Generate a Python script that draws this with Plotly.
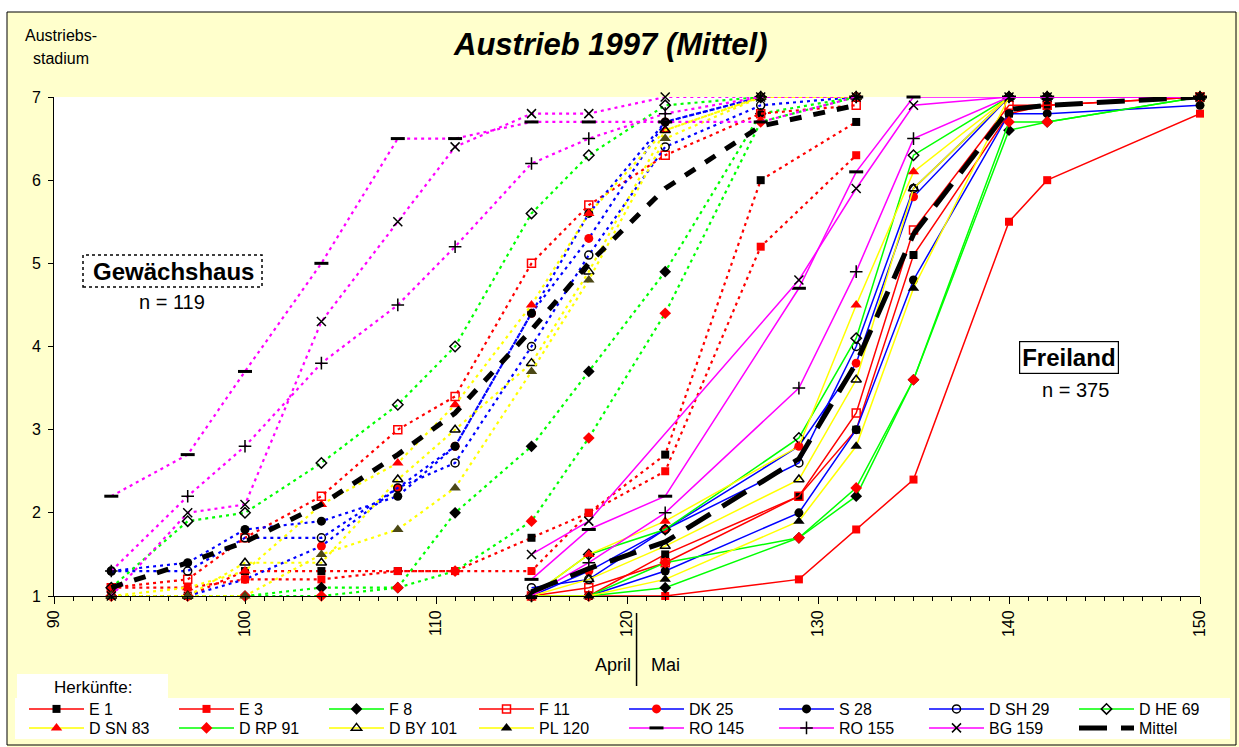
import plotly.graph_objects as go

# ---------------- data ----------------
days_gh = [93, 97, 100, 104, 108, 111, 115, 118, 122, 127, 132]   # Gewächshaus
days_fl = [115, 118, 122, 129, 132, 135, 140, 142, 150]           # Freiland

names = ["E 1", "E 3", "F 8", "F 11", "DK 25", "S 28", "D SH 29", "D HE 69",
         "D SN 83", "D RP 91", "D BY 101", "PL 120", "RO 145", "RO 155", "BG 159"]

gh_E1    = [1.0, 1.0, 1.3, 1.3, 1.3, 1.3, 1.7, 2.0, 2.7, 6.0, 6.7]
gh_E3    = [1.1, 1.1, 1.2, 1.2, 1.3, 1.3, 1.3, 2.0, 2.5, 5.2, 6.3]
gh_F8    = [1.0, 1.0, 1.0, 1.1, 1.1, 2.0, 2.8, 3.7, 4.9, 6.8, 7.0]
gh_F11   = [1.1, 1.2, 1.7, 2.2, 3.0, 3.4, 5.0, 5.7, 6.3, 6.8, 6.9]
gh_DK25  = [1.0, 1.0, 1.2, 1.6, 2.3, 2.8, 4.4, 5.3, 6.7, 7.0, 7.0]
gh_S28   = [1.3, 1.4, 1.8, 1.9, 2.2, 2.8, 4.4, 5.6, 6.7, 7.0, 7.0]
gh_DSH29 = [1.3, 1.3, 1.7, 1.7, 2.3, 2.6, 4.0, 5.1, 6.4, 6.9, 7.0]
gh_DHE69 = [1.1, 1.9, 2.0, 2.6, 3.3, 4.0, 5.6, 6.3, 6.9, 7.0, 7.0]
gh_DSN83 = [1.0, 1.1, 1.3, 2.1, 2.6, 3.3, 4.5, 5.6, 6.6, 7.0, 7.0]
gh_DRP91 = [1.0, 1.0, 1.0, 1.0, 1.1, 1.3, 1.9, 2.9, 4.4, 6.7, 7.0]
gh_DBY101 = [1.0, 1.0, 1.4, 1.4, 2.4, 3.0, 3.8, 4.9, 6.6, 7.0, 7.0]
gh_PL120 = [1.0, 1.0, 1.0, 1.5, 1.8, 2.3, 3.7, 4.8, 6.5, 7.0, 7.0]
gh_RO145 = [2.2, 2.7, 3.7, 5.0, 6.5, 6.5, 6.7, 6.7, 6.7, 6.7, 7.0]
gh_RO155 = [1.3, 2.2, 2.8, 3.8, 4.5, 5.2, 6.2, 6.5, 6.8, 7.0, 7.0]
gh_BG159 = [1.0, 2.0, 2.1, 4.3, 5.5, 6.4, 6.8, 6.8, 7.0, 7.0, 7.0]
gh_Mittel = [1.1, 1.4, 1.65, 2.1, 2.7, 3.2, 4.2, 5.0, 5.9, 6.65, 6.9]

fl_E1    = [1.0, 1.0, 1.5, 2.2, 3.0, 5.1, 6.8, 6.9, 7.0]
fl_E3    = [1.0, 1.0, 1.0, 1.2, 1.8, 2.4, 5.5, 6.0, 6.8]
fl_F8    = [1.0, 1.0, 1.1, 1.7, 2.2, 3.6, 6.6, 6.7, 7.0]
fl_F11   = [1.0, 1.1, 1.4, 2.2, 3.2, 5.4, 6.9, 6.9, 7.0]
fl_DK25  = [1.0, 1.3, 1.8, 2.8, 3.8, 5.8, 7.0, 7.0, 7.0]
fl_S28   = [1.0, 1.0, 1.3, 2.0, 3.0, 4.8, 6.8, 6.8, 6.9]
fl_DSH29 = [1.1, 1.2, 1.8, 2.6, 4.0, 5.9, 7.0, 7.0, 7.0]
fl_DHE69 = [1.0, 1.5, 1.8, 2.9, 4.1, 6.3, 7.0, 7.0, 7.0]
fl_DSN83 = [1.0, 1.5, 1.9, 2.8, 4.5, 6.1, 7.0, 7.0, 7.0]
fl_DRP91 = [1.0, 1.0, 1.4, 1.7, 2.3, 3.6, 6.7, 6.7, 7.0]
fl_DBY101 = [1.0, 1.2, 1.6, 2.4, 3.6, 5.9, 7.0, 7.0, 7.0]
fl_PL120 = [1.0, 1.0, 1.2, 1.9, 2.8, 4.7, 7.0, 7.0, 7.0]
fl_RO145 = [1.2, 1.8, 2.2, 4.7, 6.1, 7.0, 7.0, 7.0, 7.0]
fl_RO155 = [1.0, 1.4, 2.0, 3.5, 4.9, 6.5, 7.0, 7.0, 7.0]
fl_BG159 = [1.5, 1.9, None, 4.8, 5.9, 6.9, 7.0, 7.0, 7.0]
fl_Mittel = [1.05, 1.33, 1.65, 2.65, 3.8, 5.35, 6.85, 6.9, 7.0]

gh_values = [gh_E1, gh_E3, gh_F8, gh_F11, gh_DK25, gh_S28, gh_DSH29, gh_DHE69,
             gh_DSN83, gh_DRP91, gh_DBY101, gh_PL120, gh_RO145, gh_RO155, gh_BG159]
fl_values = [fl_E1, fl_E3, fl_F8, fl_F11, fl_DK25, fl_S28, fl_DSH29, fl_DHE69,
             fl_DSN83, fl_DRP91, fl_DBY101, fl_PL120, fl_RO145, fl_RO155, fl_BG159]

# ---------------- styles ----------------
RED, GREEN, YELLOW, BLUE, MAG, BLK = "#FF0000", "#00FF00", "#FFFF00", "#0000FF", "#FF00FF", "#000000"
OLIVE = "#4B4816"
styles = [
    (RED, "square", BLK), (RED, "square", RED), (GREEN, "diamond", BLK), (RED, "square-open", RED),
    (BLUE, "circle", RED), (BLUE, "circle", BLK), (BLUE, "circle-open", BLK), (GREEN, "diamond-open", BLK),
    (YELLOW, "triangle-up", RED), (GREEN, "diamond", RED), (YELLOW, "triangle-up-open", BLK),
    (YELLOW, "triangle-up", BLK), (MAG, "line-ew", BLK), (MAG, "cross-thin", BLK), (MAG, "x-thin", BLK),
]
SIZES = {"square": 8, "square-open": 8, "circle": 9, "circle-open": 8, "diamond": 9,
         "diamond-open": 8, "triangle-up": 10, "triangle-up-open": 9, "line-ew": 10,
         "cross-thin": 9, "x-thin": 9}


def marker(sym, col):
    s = SIZES[sym]
    if sym in ("line-ew", "cross-thin", "x-thin"):
        return dict(symbol=sym, size=s, color=col,
                    line=dict(color=col, width=3 if sym == "line-ew" else 1.5))
    if sym.endswith("-open"):
        return dict(symbol=sym, size=s, color=col, line=dict(color=col, width=1.5))
    return dict(symbol=sym, size=s, color=col, line=dict(width=0))


W, H = 1239, 747
L, R, T, B = 54, 39, 97, 151
PW, PH = W - L - R, H - T - B


def px(x):
    return (x - L) / PW


def py(y):
    return (H - B - y) / PH


FONT = "Arial, Liberation Sans, sans-serif"

fig = go.Figure()

# Gewächshaus (dotted)
for nm, vals, (lc, sym, mc) in zip(names, gh_values, styles):
    if nm == "PL 120":
        mc = OLIVE
    fig.add_trace(go.Scatter(
        x=days_gh, y=vals, mode="lines+markers", name=nm, legendgroup=nm,
        showlegend=False, cliponaxis=False,
        line=dict(color=lc, width=2.2, dash="3px,4px"),
        marker=marker(sym, mc)))
fig.add_trace(go.Scatter(
    x=days_gh, y=gh_Mittel, mode="lines", name="Mittel", legendgroup="Mittel",
    showlegend=False, cliponaxis=False,
    line=dict(color=BLK, width=5, dash="12px,12px")))

# Freiland (solid); first 8 in legend row 1, the rest in row 2
for i, (nm, vals, (lc, sym, mc)) in enumerate(zip(names, fl_values, styles)):
    fig.add_trace(go.Scatter(
        x=days_fl, y=vals, mode="lines+markers", name=nm, legendgroup=nm,
        legend="legend" if i < 8 else "legend2",
        showlegend=True, cliponaxis=False, connectgaps=True,
        line=dict(color=lc, width=1.5),
        marker=marker(sym, mc)))
fig.add_trace(go.Scatter(
    x=days_fl, y=fl_Mittel, mode="lines", name="Mittel", legendgroup="Mittel",
    legend="legend2", showlegend=True, cliponaxis=False,
    line=dict(color=BLK, width=5, dash="28px,14px")))

shapes = [
    dict(type="rect", xref="paper", yref="paper", x0=px(0), x1=px(W), y0=py(12), y1=py(0),
         fillcolor="white", line=dict(width=0), layer="below"),
    dict(type="rect", xref="paper", yref="paper", x0=px(0), x1=px(7), y0=py(H), y1=py(0),
         fillcolor="white", line=dict(width=0), layer="below"),
    dict(type="rect", xref="paper", yref="paper", x0=px(7), x1=px(1236), y0=py(745), y1=py(12),
         line=dict(color="black", width=1)),
    dict(type="rect", xref="paper", yref="paper", x0=px(15), x1=px(1230), y0=py(739), y1=py(698),
         fillcolor="white", line=dict(width=0), layer="below"),
    dict(type="rect", xref="paper", yref="paper", x0=px(17), x1=px(168), y0=py(699), y1=py(674),
         fillcolor="white", line=dict(width=0), layer="below"),
    dict(type="rect", xref="paper", yref="paper", x0=px(83), x1=px(262), y0=py(287), y1=py(255),
         line=dict(color="black", width=1.5, dash="3px,3px")),
    dict(type="line", xref="x", yref="paper", x0=120.5, x1=120.5, y0=py(686), y1=py(613),
         line=dict(color="black", width=1.5)),
]

annotations = [
    dict(text="<b><i>Austrieb 1997 (Mittel)</i></b>", x=px(610), y=py(45), font=dict(size=31)),
    dict(text="Austriebs-", x=px(61), y=py(36), font=dict(size=16)),
    dict(text="stadium", x=px(61), y=py(59), font=dict(size=16)),
    dict(text="<b>Gewächshaus</b>", x=px(173), y=py(271), font=dict(size=24)),
    dict(text="n = 119", x=px(172), y=py(302), font=dict(size=20)),
    dict(text="<b>Freiland</b>", x=px(1069), y=py(357), font=dict(size=24),
         bordercolor="black", borderwidth=1.2, borderpad=2, bgcolor="white"),
    dict(text="n = 375", x=px(1075), y=py(390), font=dict(size=20)),
    dict(text="April", x=px(633), y=py(665), xanchor="right", font=dict(size=18)),
    dict(text="Mai", x=px(649), y=py(665), xanchor="left", font=dict(size=18)),
    dict(text="Herkünfte:", x=px(93), y=py(687), font=dict(size=17)),
]
for a in annotations:
    a.update(xref="paper", yref="paper", showarrow=False)
    a.setdefault("xanchor", "center")
    a["yanchor"] = "middle"
    a["font"]["family"] = FONT
    a["font"]["color"] = "black"

leg_common = dict(orientation="h", x=px(24), xanchor="left", yanchor="top",
                  entrywidth=80, entrywidthmode="pixels", itemwidth=55,
                  bgcolor="rgba(0,0,0,0)", font=dict(size=16, family=FONT),
                  tracegroupgap=0, itemclick=False, itemdoubleclick=False)

fig.update_layout(
    width=W, height=H,
    margin=dict(l=L, r=R, t=T, b=B, pad=0, autoexpand=False),
    paper_bgcolor="#FFFFCC", plot_bgcolor="white",
    font=dict(family=FONT, size=16, color="black"),
    shapes=shapes, annotations=annotations,
    legend=dict(leg_common, y=py(692)),
    legend2=dict(leg_common, y=py(711)),
    xaxis=dict(range=[90, 150], tick0=90, dtick=10, tickangle=-90, ticks="outside", ticklen=7,
               tickcolor="black", showline=True, linecolor="black", linewidth=1,
               showgrid=False, zeroline=False, tickfont=dict(size=16),
               minor=dict(dtick=1, ticklen=4, ticks="outside", tickcolor="black")),
    yaxis=dict(range=[1, 7], tick0=1, dtick=1, ticks="outside", ticklen=5, tickcolor="black",
               showline=True, linecolor="black", linewidth=1, showgrid=False, zeroline=False,
               tickfont=dict(size=16), ticklabelstandoff=4),
)

fig.write_html("out.html")
